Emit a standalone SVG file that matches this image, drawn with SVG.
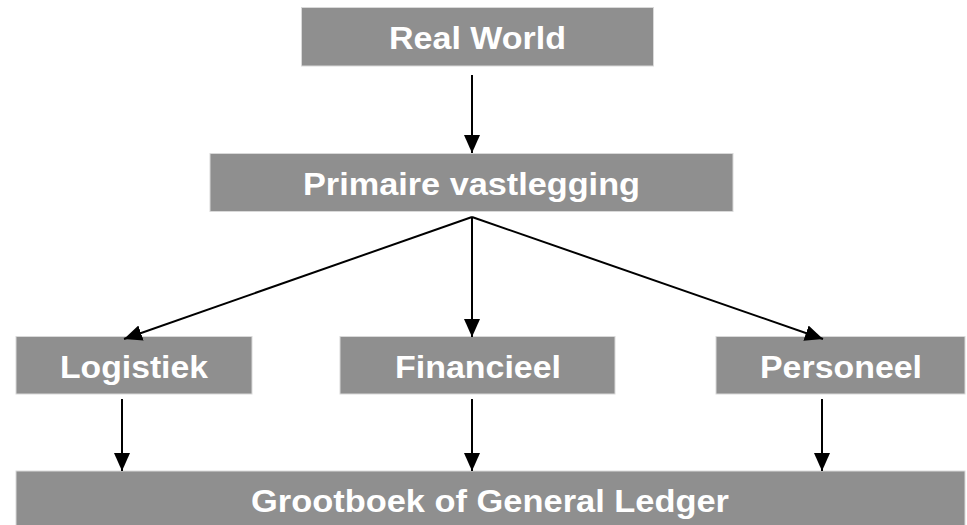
<svg xmlns="http://www.w3.org/2000/svg" width="967" height="525" viewBox="0 0 967 525">
<style>
.box{fill:#8f8f8f;stroke:#d9d9d9;stroke-width:1}
.lbl{font-family:"Liberation Sans",Arial,sans-serif;font-weight:bold;font-size:31px;fill:#ffffff}
.edge{stroke:#000;stroke-width:2;fill:none;marker-end:url(#ah)}
</style>
<defs>
<marker id="ah" markerUnits="userSpaceOnUse" markerWidth="18" markerHeight="16" refX="18" refY="8" orient="auto">
<path d="M0,0 L18,8 L0,16 Z" fill="#000"/>
</marker>
</defs>
<rect width="967" height="525" fill="#ffffff"/>
<g id="real-world">
<rect class="box" x="301.5" y="7.5" width="352" height="58.5"/>
<text class="lbl" x="389" y="49" textLength="177" lengthAdjust="spacingAndGlyphs">Real World</text>
</g>
<g id="primaire-vastlegging">
<rect class="box" x="210" y="153.5" width="523" height="58"/>
<text class="lbl" x="303" y="194.5" textLength="337" lengthAdjust="spacingAndGlyphs">Primaire vastlegging</text>
</g>
<g id="logistiek">
<rect class="box" x="16" y="336.5" width="236" height="57.5"/>
<text class="lbl" x="60" y="377.5" textLength="148" lengthAdjust="spacingAndGlyphs">Logistiek</text>
</g>
<g id="financieel">
<rect class="box" x="340" y="336.5" width="275" height="57.5"/>
<text class="lbl" x="395" y="377.5" textLength="166" lengthAdjust="spacingAndGlyphs">Financieel</text>
</g>
<g id="personeel">
<rect class="box" x="716" y="336.5" width="249" height="57.5"/>
<text class="lbl" x="760" y="377.5" textLength="162" lengthAdjust="spacingAndGlyphs">Personeel</text>
</g>
<g id="grootboek">
<rect class="box" x="16" y="471" width="949" height="60"/>
<text class="lbl" x="251" y="512" textLength="478" lengthAdjust="spacingAndGlyphs">Grootboek of General Ledger</text>
</g>
<g id="connectors">
<line class="edge" x1="472" y1="75" x2="472" y2="153"/>
<line class="edge" x1="472" y1="217" x2="124" y2="339"/>
<line class="edge" x1="472" y1="217" x2="472" y2="337"/>
<line class="edge" x1="472" y1="217" x2="823" y2="339"/>
<line class="edge" x1="122" y1="399" x2="122" y2="471"/>
<line class="edge" x1="472" y1="399" x2="472" y2="471"/>
<line class="edge" x1="822" y1="399" x2="822" y2="471"/>
</g>
</svg>
